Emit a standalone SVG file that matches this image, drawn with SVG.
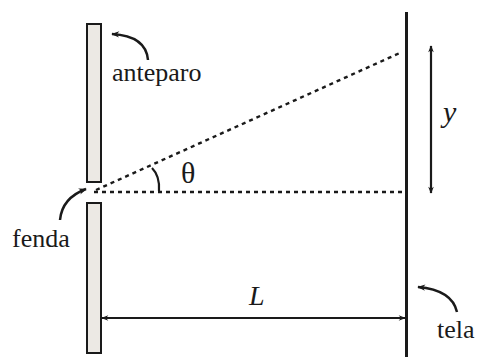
<svg xmlns="http://www.w3.org/2000/svg" width="478" height="357" viewBox="0 0 478 357">
<style>
.bar{fill:#ece9e4;stroke:#1a1a1a;stroke-width:2}
.dot{stroke:#1a1a1a;stroke-width:2.4;stroke-dasharray:4 4;fill:none}
.ln{stroke:#1a1a1a;fill:none}
.lbl{font-family:"Liberation Serif","Times New Roman",serif;font-size:26px;fill:#1a1a1a}
.it{font-style:italic}
</style>
<defs>
<marker id="ah" viewBox="0 0 10 10" refX="9" refY="5" markerWidth="9" markerHeight="7" orient="auto-start-reverse" markerUnits="userSpaceOnUse">
<path d="M0,1 L10,5 L0,9 L3,5 Z" fill="#1a1a1a"/>
</marker>
<marker id="ch" viewBox="0 0 10 10" refX="9" refY="5" markerWidth="12" markerHeight="8" orient="auto" markerUnits="userSpaceOnUse">
<path d="M0,1 L10,5 L0,9 L3,5 Z" fill="#1a1a1a"/>
</marker>
</defs>
<g id="anteparo-top"><rect class="bar" x="87" y="24" width="14" height="158"/></g>
<g id="anteparo-bottom"><rect class="bar" x="87" y="203" width="14" height="150"/></g>
<g id="tela-screen"><line class="ln" x1="406.5" y1="12" x2="406.5" y2="357" stroke-width="3"/></g>
<g id="connectors">
<line class="dot" x1="94" y1="192" x2="406" y2="192"/>
<line class="dot" x1="96" y1="190" x2="402" y2="52"/>
<path class="ln" stroke-width="2.2" d="M152,168 Q160,176 159,191"/>
<line class="ln" stroke-width="2.2" x1="431" y1="46" x2="431" y2="193" marker-start="url(#ah)" marker-end="url(#ah)"/>
<line class="ln" stroke-width="2.2" x1="102" y1="318" x2="405" y2="318" marker-start="url(#ah)" marker-end="url(#ah)"/>
<path class="ln" stroke-width="2.5" d="M148,60 Q146,36 112,34" marker-end="url(#ch)"/>
<path class="ln" stroke-width="2.5" d="M60,220 Q62,198 86,189" marker-end="url(#ch)"/>
<path class="ln" stroke-width="2.5" d="M457,312 Q452,290 418,287" marker-end="url(#ch)"/>
</g>
<g id="labels">
<text class="lbl" x="112" y="81">anteparo</text>
<text class="lbl" x="12" y="247">fenda</text>
<text class="lbl" x="437" y="338">tela</text>
<text class="lbl" x="181" y="183" style="font-size:30px">θ</text>
<text class="lbl it" x="443" y="122" style="font-size:30px">y</text>
<text class="lbl it" x="249" y="305" style="font-size:28px">L</text>
</g>
</svg>
